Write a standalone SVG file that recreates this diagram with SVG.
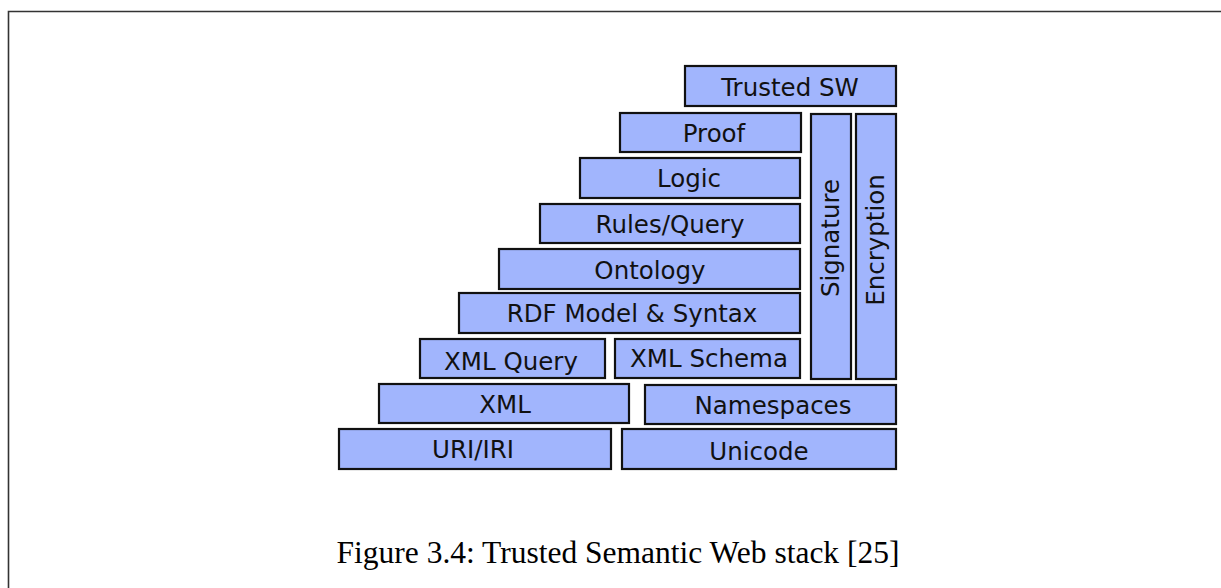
<svg xmlns="http://www.w3.org/2000/svg" width="1221" height="588" viewBox="0 0 1221 588">
  <style>
    .box { fill: #a1b5fd; stroke: #111; stroke-width: 2.2; }
    .lbl { font-family: "DejaVu Sans", Verdana, sans-serif; font-size: 24.5px; fill: #111; text-anchor: middle; }
    .cap { font-family: "Liberation Serif", "Times New Roman", serif; font-size: 31.5px; fill: #000; text-anchor: middle; }
  </style>
  <rect width="1221" height="588" fill="#fff"/>
  <!-- page frame -->
  <path d="M8.5,588 V11.5 H1221" fill="none" stroke="#333" stroke-width="1.6"/>

  <g id="trusted-sw"><rect class="box" x="685" y="66" width="211" height="40"/><text class="lbl" x="790" y="96">Trusted SW</text></g>
  <g id="proof"><rect class="box" x="620" y="113" width="181" height="39"/><text class="lbl" x="714" y="142">Proof</text></g>
  <g id="logic"><rect class="box" x="580" y="158" width="220" height="40"/><text class="lbl" x="689" y="187">Logic</text></g>
  <g id="rules-query"><rect class="box" x="540" y="204" width="260" height="39"/><text class="lbl" x="670" y="233">Rules/Query</text></g>
  <g id="ontology"><rect class="box" x="499" y="249" width="301" height="40"/><text class="lbl" x="650" y="279">Ontology</text></g>
  <g id="rdf"><rect class="box" x="459" y="293" width="341" height="40"/><text class="lbl" x="632" y="322">RDF Model &amp; Syntax</text></g>
  <g id="xml-query"><rect class="box" x="420" y="339" width="185" height="39"/><text class="lbl" x="511" y="370">XML Query</text></g>
  <g id="xml-schema"><rect class="box" x="615" y="339" width="185" height="39"/><text class="lbl" x="709" y="367">XML Schema</text></g>
  <g id="xml"><rect class="box" x="379" y="384" width="250" height="39"/><text class="lbl" x="505" y="413">XML</text></g>
  <g id="namespaces"><rect class="box" x="645" y="385" width="251" height="39"/><text class="lbl" x="773" y="414">Namespaces</text></g>
  <g id="uri-iri"><rect class="box" x="339" y="429" width="272" height="40"/><text class="lbl" x="473" y="458">URI/IRI</text></g>
  <g id="unicode"><rect class="box" x="622" y="429" width="274" height="40"/><text class="lbl" x="759" y="460">Unicode</text></g>
  <g id="signature"><rect class="box" x="811" y="114" width="40" height="265"/><text class="lbl" transform="translate(839,238) rotate(-90)">Signature</text></g>
  <g id="encryption"><rect class="box" x="856" y="114" width="40" height="265"/><text class="lbl" transform="translate(884,240) rotate(-90)">Encryption</text></g>

  <g id="connectors"></g>

  <text class="cap" x="618" y="563">Figure 3.4: Trusted Semantic Web stack [25]</text>
</svg>
